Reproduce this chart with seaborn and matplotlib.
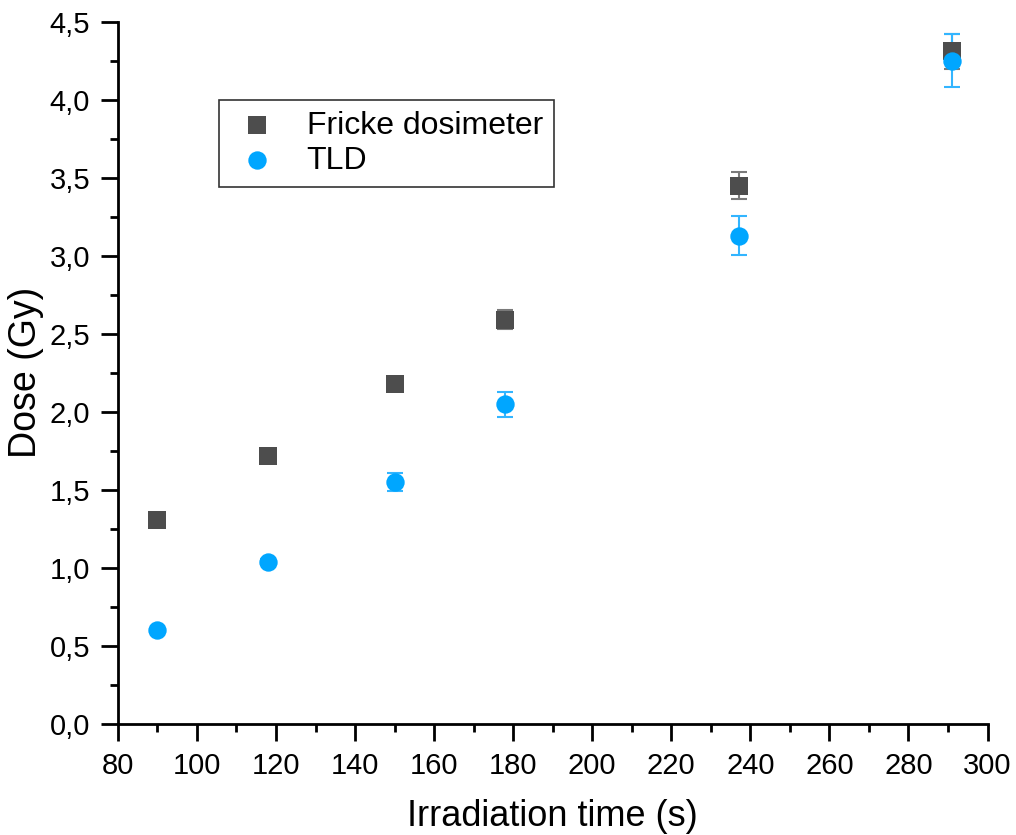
import matplotlib
matplotlib.use("Agg")
import matplotlib.pyplot as plt
import seaborn as sns
import pandas as pd
from matplotlib.ticker import MultipleLocator, FuncFormatter

# Data
time_s = [90, 118, 150, 178, 237, 291]
fricke_dose = [1.31, 1.72, 2.18, 2.59, 3.45, 4.31]
fricke_err = [0.02, 0.02, 0.04, 0.06, 0.087, 0.11]
tld_dose = [0.60, 1.04, 1.55, 2.05, 3.13, 4.25]
tld_err = [0.01, 0.02, 0.06, 0.08, 0.125, 0.17]
series_names = ["Fricke dosimeter", "TLD"]

sns.set_theme(style="ticks")
plt.rcParams['font.family'] = ['Liberation Sans', 'DejaVu Sans']

df = pd.concat([
    pd.DataFrame({"time": time_s, "dose": fricke_dose, "err": fricke_err, "series": series_names[0]}),
    pd.DataFrame({"time": time_s, "dose": tld_dose, "err": tld_err, "series": series_names[1]}),
])

fig, ax = plt.subplots(figsize=(10.16, 8.35), dpi=100)
fig.subplots_adjust(left=0.116, right=0.972, top=0.974, bottom=0.133)

colors = {"Fricke dosimeter": "#4d4d4d", "TLD": "#00a6ff"}
ecolors = {"Fricke dosimeter": "#7a7a7a", "TLD": "#33b5ff"}
markers = {"Fricke dosimeter": "s", "TLD": "o"}
sizes = {"Fricke dosimeter": 150, "TLD": 175}

for name in series_names:
    sub = df[df.series == name]
    ax.errorbar(sub.time, sub.dose, yerr=sub.err, fmt="none", ecolor=ecolors[name],
                elinewidth=1.5, capsize=6, capthick=1.5, zorder=2)
    sns.scatterplot(data=sub, x="time", y="dose", color=colors[name], marker=markers[name],
                    s=sizes[name], linewidth=0, ax=ax, zorder=3, label=name)

ax.set_xlim(80, 300)
ax.set_ylim(0, 4.5)
ax.xaxis.set_major_locator(MultipleLocator(20))
ax.xaxis.set_minor_locator(MultipleLocator(10))
ax.yaxis.set_major_locator(MultipleLocator(0.5))
ax.yaxis.set_minor_locator(MultipleLocator(0.25))
ax.yaxis.set_major_formatter(FuncFormatter(lambda v, p: f"{v:.1f}".replace(".", ",")))

for s in ["top", "right"]:
    ax.spines[s].set_visible(False)
for s in ["left", "bottom"]:
    ax.spines[s].set_linewidth(2)
    ax.spines[s].set_color("black")

ax.tick_params(axis="both", which="major", direction="out", length=12, width=2, labelsize=21,
               colors="black", pad=8)
ax.tick_params(axis="both", which="minor", direction="out", length=6, width=2, colors="black")

ax.set_xlabel("Irradiation time (s)", fontsize=26, labelpad=14, color="black")
ax.set_ylabel("Dose (Gy)", fontsize=27, labelpad=4, color="black")

leg = ax.legend(loc="upper left", bbox_to_anchor=(0.116, 0.889), frameon=True, fancybox=False,
                edgecolor="black", fontsize=23, markerscale=1.0, handletextpad=0.7,
                borderpad=0.35, labelspacing=0.15, handlelength=1.7, borderaxespad=0)
leg.get_frame().set_linewidth(1.2)
for t in leg.get_texts():
    t.set_color("black")

fig.savefig("out.png", dpi=100)
